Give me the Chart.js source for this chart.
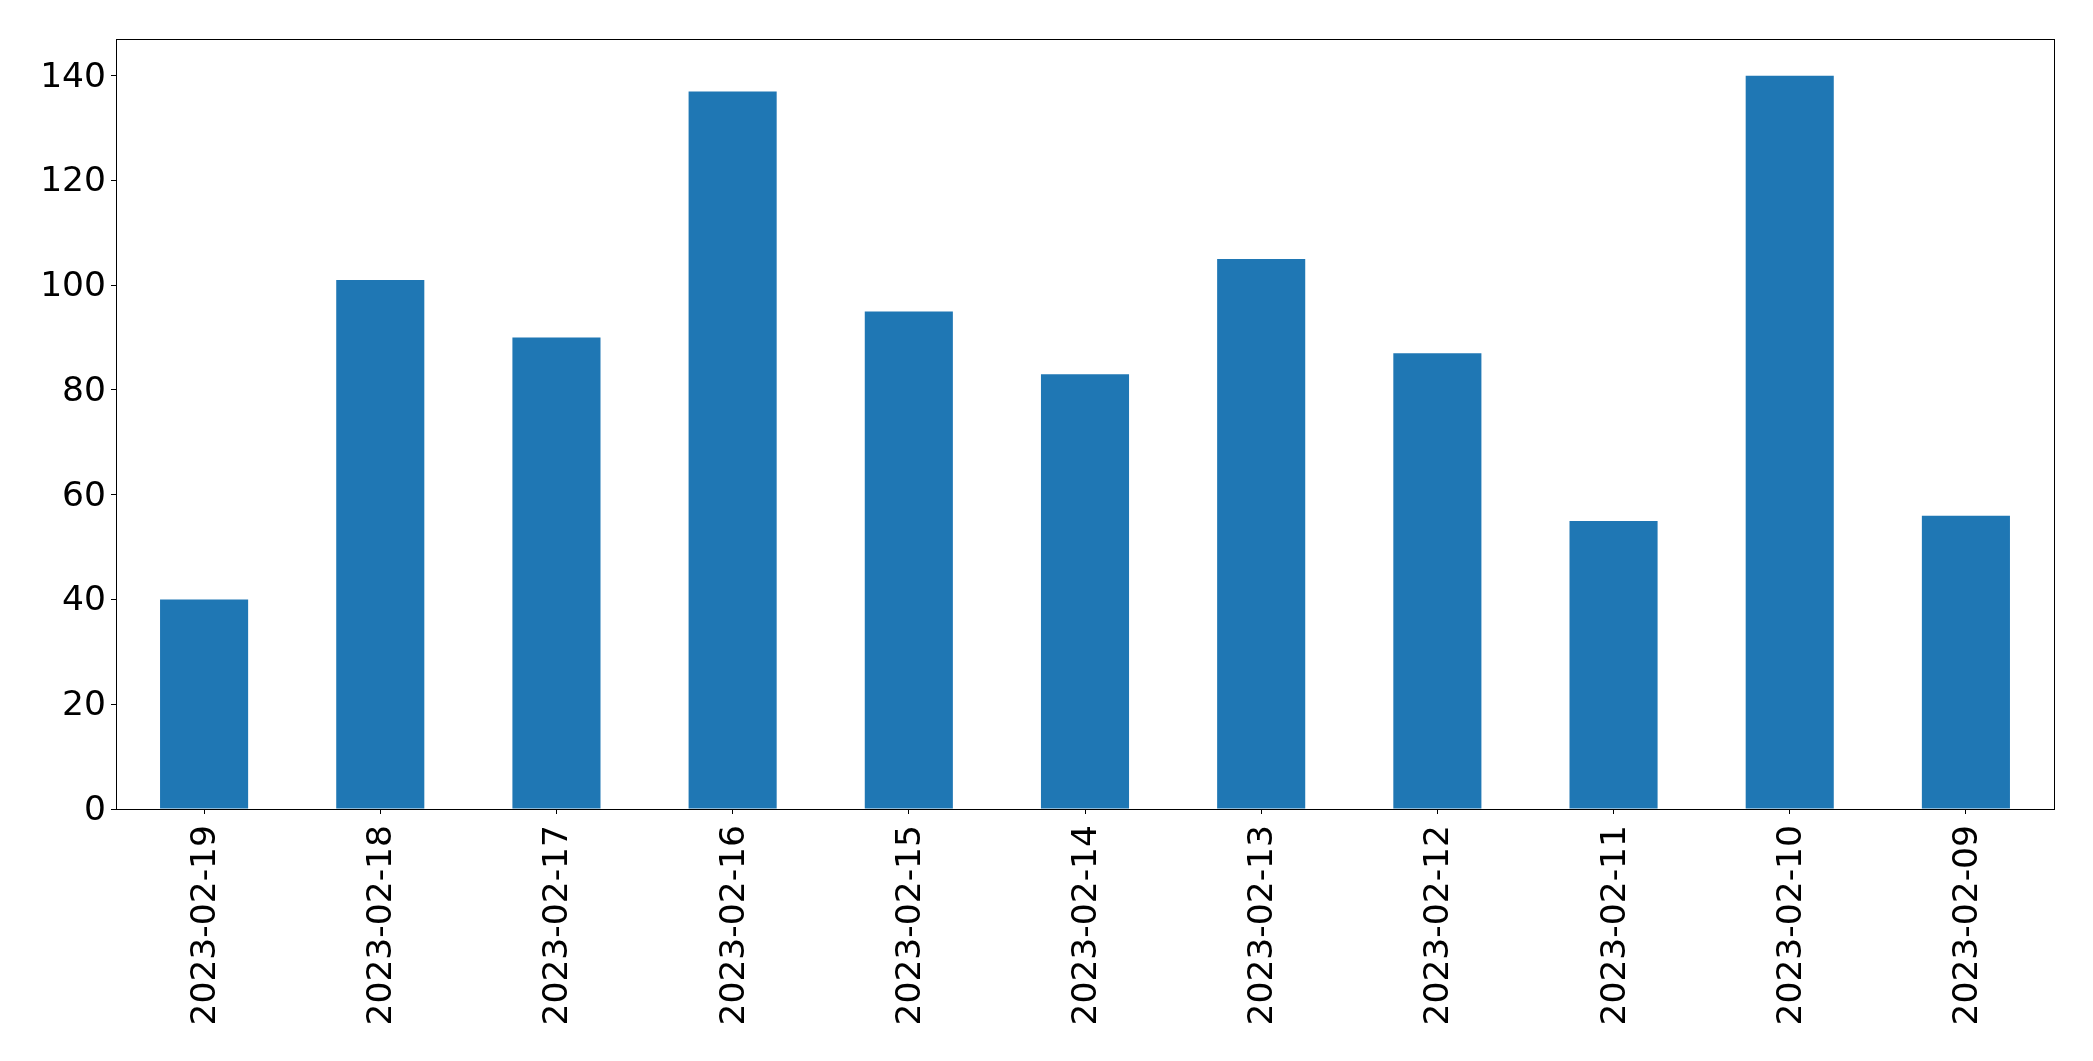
<!DOCTYPE html>
<html>
<head>
<meta charset="utf-8">
<script src="https://cdn.jsdelivr.net/npm/chart.js@4/dist/chart.umd.min.js"></script>
<style>
  body { margin: 0; background: #fff; }
  canvas { display: block; }
</style>
</head>
<body>
<canvas id="myChart" width="2093" height="1061"></canvas>
<script>
const dates = ["2023-02-19", "2023-02-18", "2023-02-17", "2023-02-16", "2023-02-15", "2023-02-14",
  "2023-02-13", "2023-02-12", "2023-02-11", "2023-02-10", "2023-02-09"];
const counts = [40, 101, 90, 137, 95, 83, 105, 87, 55, 140, 56];
const yTicks = [0, 20, 40, 60, 80, 100, 120, 140];

// box around the plot area like matplotlib spines
const frame = {
  id: "frame",
  afterDraw(chart) {
    const { ctx, chartArea: a } = chart;
    ctx.save();
    ctx.strokeStyle = "#000";
    ctx.lineWidth = 1;
    ctx.strokeRect(Math.round(a.left) + 0.5, Math.round(a.top) + 0.5,
      Math.round(a.right - a.left), Math.round(a.bottom - a.top));
    ctx.restore();
  }
};

const font = { family: "DejaVu Sans", size: 34.5 };

new Chart(document.getElementById("myChart").getContext("2d"), {
  type: "bar",
  data: {
    labels: dates,
    datasets: [
      {
        label: "count",
        data: counts,
        backgroundColor: "#1f77b4",
        barPercentage: 0.5,
        categoryPercentage: 1.0
      }
    ]
  },
  options: {
    responsive: false,
    animation: false,
    layout: { padding: { top: 39, right: 39, left: 0, bottom: 0 } },
    plugins: { legend: { display: false }, tooltip: { enabled: false } },
    scales: {
      x: {
        grid: { drawOnChartArea: false, offset: false, color: "#000", tickLength: 5 },
        border: { display: false },
        ticks: { color: "#000", font: font, minRotation: 90, maxRotation: 90, padding: 11, labelOffset: 2, autoSkip: false },
        afterFit(scale) { scale.height = 252; }
      },
      y: {
        min: 0,
        max: 147,
        grid: { drawOnChartArea: false, color: "#000", tickLength: 5 },
        border: { display: false },
        ticks: {
          color: "#000",
          font: font,
          stepSize: 20,
          padding: 5,
          labelOffset: 2,
          includeBounds: false,
          callback: (v) => (yTicks.includes(v) ? v : "")
        },
        afterFit(scale) { scale.width = 116; }
      }
    }
  },
  plugins: [frame]
});
</script>
</body>
</html>
